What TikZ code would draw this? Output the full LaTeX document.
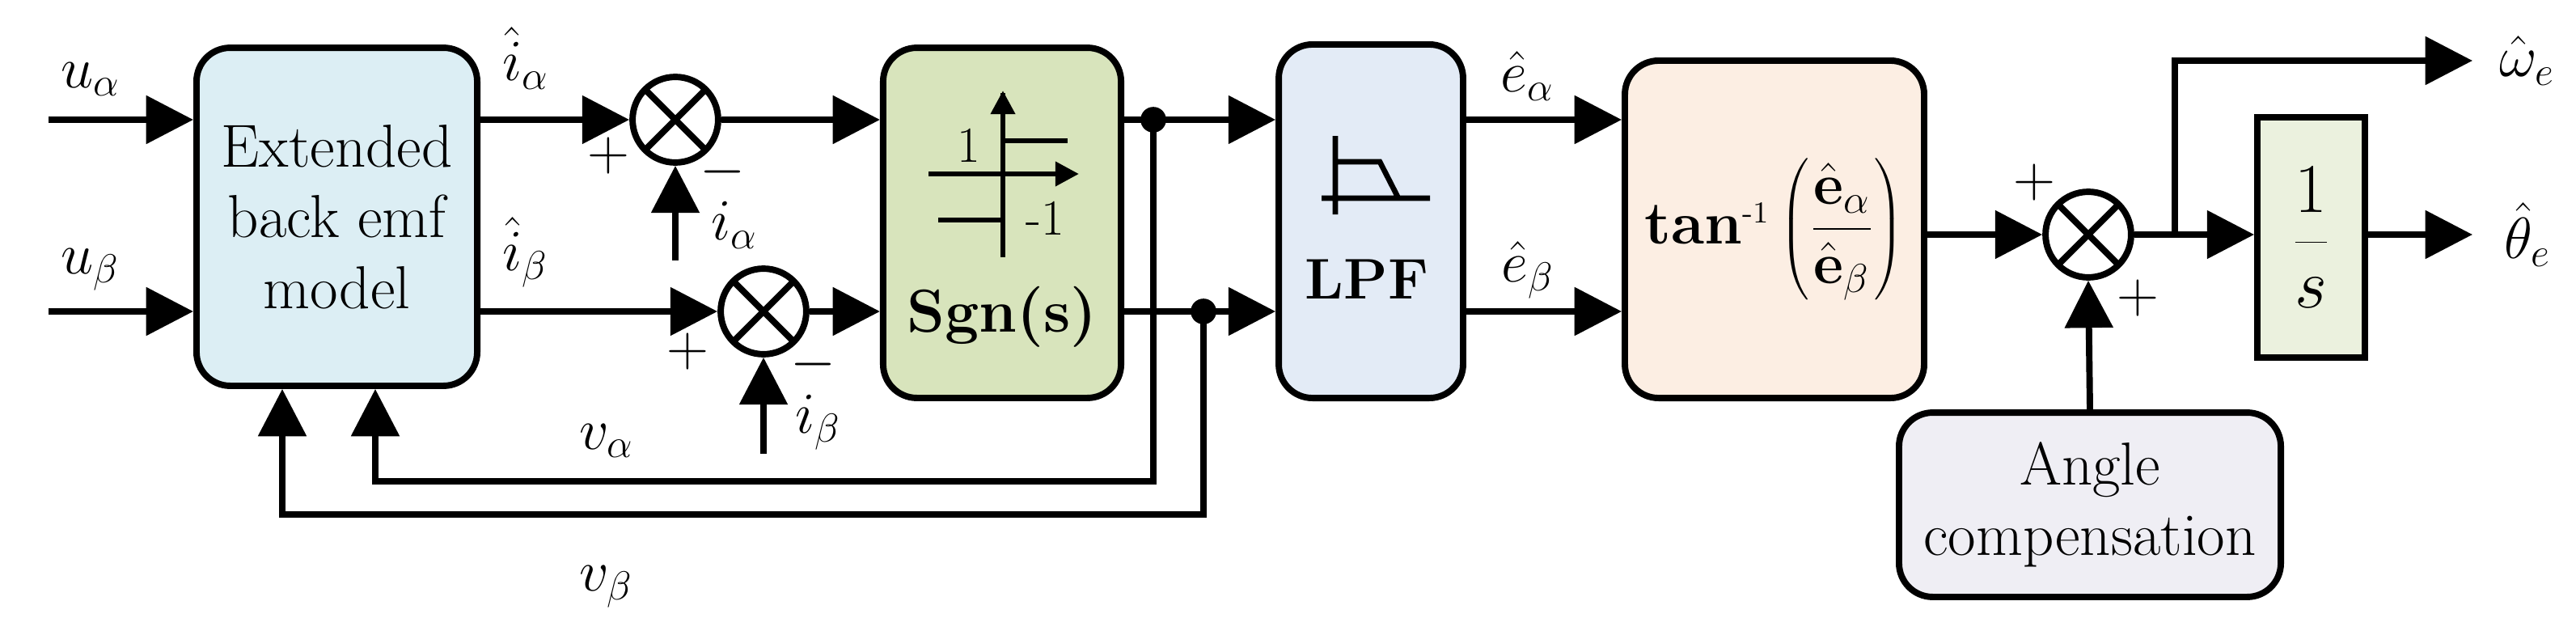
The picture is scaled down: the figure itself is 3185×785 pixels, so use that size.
\documentclass[tikz,border=0pt]{standalone}
\usetikzlibrary{arrows.meta,calc}
\definecolor{cExt}{HTML}{DCEEF4}
\definecolor{cSgn}{HTML}{D8E4BC}
\definecolor{cLpf}{HTML}{E3EBF6}
\definecolor{cTan}{HTML}{FCEEE3}
\definecolor{cInt}{HTML}{EBF1DE}
\definecolor{cAng}{HTML}{EFEEF4}
\begin{document}
\begin{tikzpicture}[x=0.24pt,y=-0.24pt,
  line width=1.9pt,
  arr/.style={-{Triangle[length=14pt,width=14pt]}},
  box/.style={draw,rounded corners=10pt,align=center,font=\fontsize{18}{21}\selectfont},
  sum/.style={draw,circle,fill=white,minimum size=25.4pt,inner sep=0pt,
    path picture={\draw (path picture bounding box.north west)--(path picture bounding box.south east)
      (path picture bounding box.north east)--(path picture bounding box.south west);}},
  lab/.style={font=\fontsize{18}{20}\selectfont,inner sep=1pt},
  pm/.style={font=\fontsize{16}{16}\selectfont,inner sep=1pt}]
\useasboundingbox (0,0) rectangle (3185,785);
% blocks
\node[box,fill=cExt,minimum width=83.3pt,minimum height=100.3pt] (ext) at (416.5,268) {Extended\\back emf\\model};
\node[box,fill=cSgn,minimum width=70.6pt,minimum height=103.9pt] (sgn) at (1239,275.5) {};
\node[font=\bfseries\fontsize{18}{20}\selectfont] (sgnt) at (1239,392) {Sgn(s)};
\node[box,fill=cLpf,minimum width=54.7pt,minimum height=104.9pt] (lpf) at (1695,273.5) {};
\node[font=\fontsize{17}{18}\selectfont\bfseries] (lpft) at (1690,345) {LPF};
\node[box,fill=cTan,minimum width=88.8pt,minimum height=100.1pt] (tan) at (2194,283.5)
  {\textbf{tan}$^{\mbox{\small -1}}\left(\displaystyle\frac{\hat{\mathbf{e}}_{\alpha}}{\hat{\mathbf{e}}_{\beta}}\right)$};
\node[draw,fill=cInt,minimum width=31.9pt,minimum height=71.3pt,font=\fontsize{20}{24}\selectfont] (int) at (2857.5,293.5) {$\displaystyle\frac{1}{s}$};
\node[box,fill=cAng,minimum width=113.3pt,minimum height=54.7pt] (ang) at (2584,624) {Angle\\compensation};
% sums
\node[sum] (s1) at (835,148) {};
\node[sum] (s2) at (944,385) {};
\node[sum] (s3) at (2582,290) {};
% sgn symbol
\draw[line width=1.6pt] (1240,115) -- (1240,318);
\draw[line width=1.6pt,-{Triangle[length=7pt,width=7pt]}] (1240,115) -- (1240,112);
\draw[line width=1.6pt,-{Triangle[length=7pt,width=7pt]}] (1148,215) -- (1334,215);
\draw[line width=1.6pt] (1240,174) -- (1320,174) (1160,272) -- (1240,272);
\node[font=\fontsize{15}{16}\selectfont] (one) at (1198,180) {1};
\node[font=\fontsize{15}{16}\selectfont] (mone) at (1292,270) {-1};
% lpf symbol
\draw[line width=1.6pt] (1651,168) -- (1651,265) (1634,245) -- (1768,245)
  (1651,200) -- (1706,200) -- (1729,245);
% coordinates
\coordinate (ua) at (60,148); \coordinate (ub) at (60,385);
\coordinate (d1) at (1426,148); \coordinate (d2) at (1488,385);
\coordinate (f1) at (1426,595); \coordinate (f1e) at (464,595);
\coordinate (f2) at (1488,636); \coordinate (f2e) at (349,636);
\coordinate (ma) at (835,322); \coordinate (mb) at (944,561);
\coordinate (br) at (2689,290); \coordinate (bru) at (2689,75);
\coordinate (wo) at (3057,75); \coordinate (to) at (3057,290);
% connectors
\draw[arr] (ua) -- (ext.west|-ua);
\draw[arr] (ub) -- (ext.west|-ub);
\draw[arr] (ext.east|-s1) -- (s1.west);
\draw[arr] (ext.east|-s2) -- (s2.west);
\draw[arr] (s1.east) -- (sgn.west|-s1);
\draw[arr] (s2.east) -- (sgn.west|-s2);
\draw[arr] (ma) -- (s1.south);
\draw[arr] (mb) -- (s2.south);
\draw[arr] (sgn.east|-d1) -- (lpf.west|-d1);
\draw[arr] (sgn.east|-d2) -- (lpf.west|-d2);
\fill (d1) circle (3.8pt); \fill (d2) circle (3.8pt);
\draw[arr] (d1) -- (f1) -- (f1e) -- (ext.south-|f1e);
\draw[arr] (d2) -- (f2) -- (f2e) -- (ext.south-|f2e);
\draw[arr] (lpf.east|-d1) -- (tan.west|-d1);
\draw[arr] (lpf.east|-d2) -- (tan.west|-d2);
\draw[arr] (tan.east|-s3) -- (s3.west);
\draw (s3.east) -- (br);
\draw[arr] (br) -- (int.west|-br);
\draw[arr] (br) -- (bru) -- (wo);
\draw[arr] (int.east|-to) -- (to);
\draw[arr] (ang.north) -- (s3.south);
% labels
\node[lab] (lua) at (112,98) {$u_{\alpha}$};
\node[lab] (lub) at (112,333) {$u_{\beta}$};
\node[lab] (lia) at (650,72) {$\hat{i}_{\alpha}$};
\node[lab] (lib) at (650,312) {$\hat{i}_{\beta}$};
\node[pm] (p1) at (752,192) {$+$};
\node[pm] (m1) at (893,212) {$-$};
\node[lab] (lma) at (908,278) {$i_{\alpha}$};
\node[pm] (p2) at (850,434) {$+$};
\node[pm] (m2) at (1005,450) {$-$};
\node[lab] (lmb) at (1012,522) {$i_{\beta}$};
\node[lab] (lva) at (750,545) {$v_{\alpha}$};
\node[lab] (lvb) at (750,725) {$v_{\beta}$};
\node[lab] (lea) at (1889,94) {$\hat{e}_{\alpha}$};
\node[lab] (leb) at (1889,334) {$\hat{e}_{\beta}$};
\node[pm] (p3) at (2515,225) {$+$};
\node[pm] (p4) at (2643,368) {$+$};
\node[lab] (lw) at (3125,75) {$\hat{\omega}_{e}$};
\node[lab] (lt) at (3125,290) {$\hat{\theta}_{e}$};
\end{tikzpicture}
\end{document}
